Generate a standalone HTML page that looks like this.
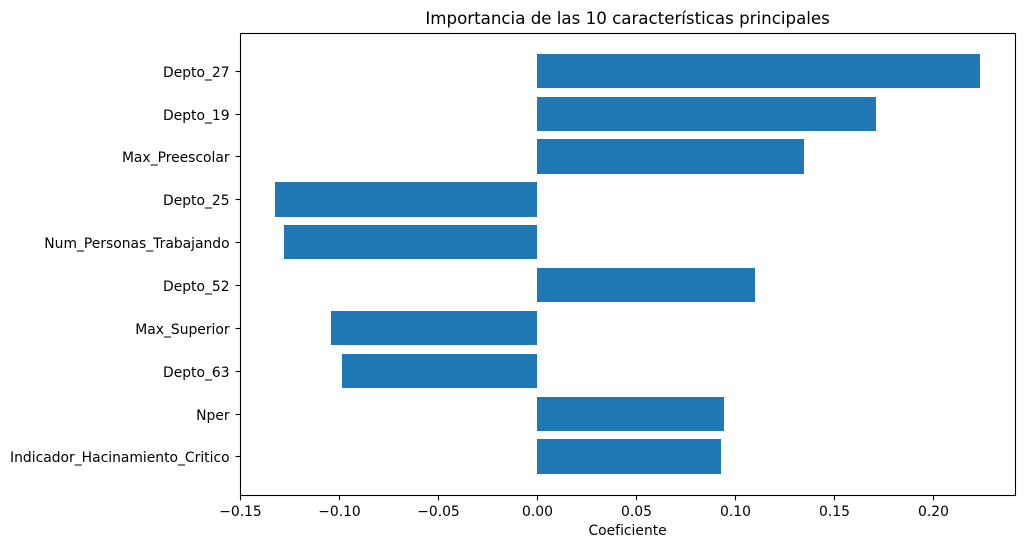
<!DOCTYPE html>
<html lang="es">
<head>
<meta charset="utf-8">
<title>Importancia de las 10 características principales</title>
<style>
html,body{margin:0;padding:0;background:#fff;width:1024px;height:548px;overflow:hidden}
svg{display:block}
text{font-family:"DejaVu Sans","Liberation Sans",sans-serif;fill:#000}
</style>
</head>
<body>
<svg id="chart" xmlns="http://www.w3.org/2000/svg" width="1024" height="548" viewBox="0 0 1024 548"></svg>
<script>
const categories = ["Depto_27","Depto_19","Max_Preescolar","Depto_25","Num_Personas_Trabajando","Depto_52","Max_Superior","Depto_63","Nper","Indicador_Hacinamiento_Critico"];
const coefficients = [0.2237,0.1712,0.1349,-0.1323,-0.1278,0.1101,-0.1040,-0.0985,0.0945,0.0930];
const xTicks = [-0.15,-0.10,-0.05,0,0.05,0.10,0.15,0.20];
const xTickLabels = ["\u22120.15","\u22120.10","\u22120.05","0.00","0.05","0.10","0.15","0.20"];
const titleText = "Importancia de las 10 características principales";
const xAxisLabel = "Coeficiente";

const plotLeft = 240.5, plotRight = 1015.5, plotTop = 33.5, plotBottom = 495.5;
const xZeroPx = 537.2, xPxPerUnit = 1980;
const NS = "http://www.w3.org/2000/svg";
const svg = document.getElementById("chart");

function xScale(v){ return xZeroPx + v * xPxPerUnit; }
const slot = (plotBottom - plotTop) / (categories.length - 1 + 0.8 + 2 * 0.49);
function yScale(i){ return plotTop - 0.4 + (0.4 + 0.49) * slot + i * slot; }
function make(tag, attrs, parent){
  const el = document.createElementNS(NS, tag);
  for (const k in attrs) el.setAttribute(k, attrs[k]);
  (parent || svg).appendChild(el);
  return el;
}

const background = make("rect", {x:0, y:0, width:1024, height:548, fill:"#fff"});



const barsGroup = make("g", {});


coefficients.forEach(function(v, i){
  const x0 = Math.round(xScale(Math.min(v, 0))), x1 = Math.round(xScale(Math.max(v, 0)));
  const h = slot * 0.8;
  const top = Math.round(yScale(i) - 0.4 - h / 2), bottom = Math.round(yScale(i) - 0.4 + h / 2);
  const bar = make("rect", {x:x0, y:top, width:x1 - x0, height:bottom - top, fill:"#1f77b4"}, barsGroup);
  
  
});

const tickStyle = {stroke:"#000", "stroke-width":1.11};

const xAxis = make("g", {});


xTicks.forEach(function(t, i){
  const x = Math.round(xScale(t) - 0.5) + 0.5;
  const tick = make("line", Object.assign({x1:x, x2:x, y1:plotBottom, y2:plotBottom + 4.86}, tickStyle), xAxis);
  
  
  const label = make("text", {x:x, y:516, "font-size":13.89, "text-anchor":"middle"}, xAxis);
  label.textContent = xTickLabels[i];
  
  
});

const yAxis = make("g", {});


categories.forEach(function(c, i){
  const yFloor = Math.floor(yScale(i));
  const y = yFloor + 0.5;
  const tick = make("line", Object.assign({x1:plotLeft - 4.86, x2:plotLeft, y1:y, y2:y}, tickStyle), yAxis);
  
  
  const label = make("text", {x:229.6, y:yFloor + 6, "font-size":13.89, "text-anchor":"end"}, yAxis);
  label.textContent = c;
  
  
});

const frame = make("rect", {x:plotLeft, y:plotTop, width:plotRight - plotLeft, height:plotBottom - plotTop, fill:"none", stroke:"#000", "stroke-width":1.11});



const title = make("text", {x:627.6, y:24, "font-size":16.67, "text-anchor":"middle"});
title.textContent = titleText;



const xTitle = make("text", {x:627.6, y:535, "font-size":13.89, "text-anchor":"middle"});
xTitle.textContent = xAxisLabel;


</script>
</body>
</html>
